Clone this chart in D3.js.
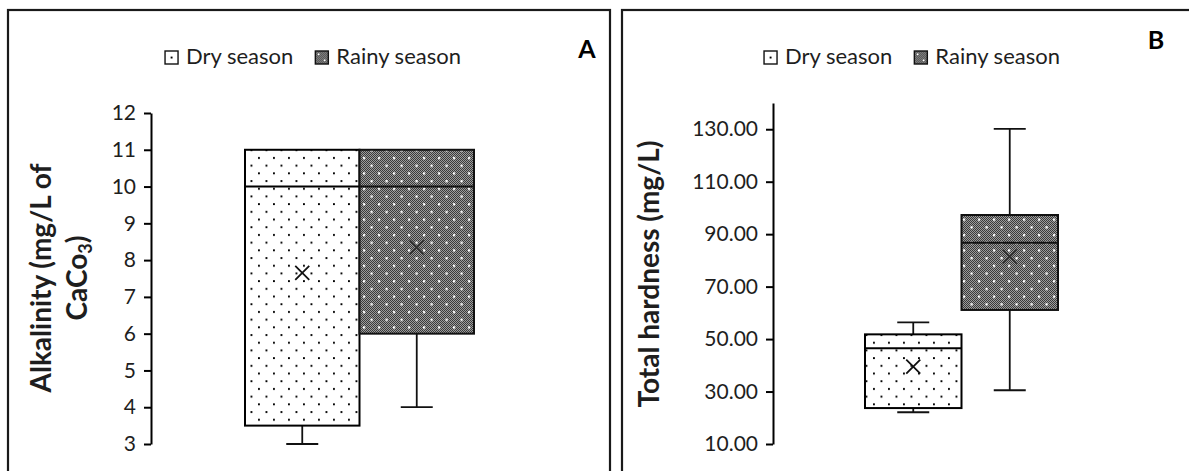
<!DOCTYPE html>
<html><head><meta charset="utf-8">
<script src="https://cdn.jsdelivr.net/npm/d3@7"></script>
<style>html,body{margin:0;padding:0;background:#fff;}svg{display:block;}</style>
</head><body>
<svg id="chart" width="1189" height="471"></svg>
<script>
// ---- data ----
const seasons = ["Dry season", "Rainy season"];
// Panel A: Alkalinity (mg/L of CaCo3)
const alkMin    = [3, 4];
const alkQ1     = [3.5, 6];
const alkMedian = [10, 10];
const alkQ3     = [11, 11];
const alkMax    = [11, 11];
const alkMean   = [7.65, 8.35];
const alkTicks  = [3, 4, 5, 6, 7, 8, 9, 10, 11, 12];
// Panel B: Total hardness (mg/L)
const hardMin    = [22.1, 30.5];
const hardQ1     = [23.7, 61.1];
const hardMedian = [46.5, 86.7];
const hardQ3     = [51.8, 97.3];
const hardMax    = [56.4, 130.1];
const hardMean   = [39.5, 81.4];
const hardTicks  = [10, 30, 50, 70, 90, 110, 130];

const svg = d3.select("#chart");
const defs = svg.append("defs");
// checker for rainy
const chk = defs.append("pattern").attr("id","chk").attr("patternUnits","userSpaceOnUse").attr("width",2).attr("height",2);
chk.append("rect").attr("width",2).attr("height",2).attr("fill","#9c9c9c");
chk.append("rect").attr("width",1).attr("height",1).attr("fill","#3a3a3a");
chk.append("rect").attr("x",1).attr("y",1).attr("width",1).attr("height",1).attr("fill","#3a3a3a");
function dotPattern(id, color, size){
  const p = defs.append("pattern").attr("id",id).attr("patternUnits","userSpaceOnUse").attr("width",15).attr("height",15.4);
  p.append("rect").attr("x",3).attr("y",3).attr("width",size).attr("height",size).attr("fill",color);
  p.append("rect").attr("x",10.5).attr("y",10.7).attr("width",size).attr("height",size).attr("fill",color);
}
dotPattern("dryDots","#000",1.9);
dotPattern("rainDots","#fff",2.2);

const FONT = "Lato, 'Open Sans', sans-serif";

function drawPanel(cfg){
  const g = svg.append("g");
  // border
  g.append("rect").attr("x",cfg.bx).attr("y",10).attr("width",cfg.bw).attr("height",500)
    .attr("fill","none").attr("stroke","#1a1a1a").attr("stroke-width",2.2);

  const y = d3.scaleLinear().domain(cfg.domain).range([444, cfg.top]);
  const x = d3.scaleBand().domain(seasons).range(cfg.xr).padding(0);

  const ax = g.append("g").attr("transform",`translate(${cfg.ax},0)`)
    .call(d3.axisLeft(y).tickValues(cfg.ticks).tickSize(7).tickPadding(8).tickSizeOuter(0).tickFormat(cfg.fmt));
  ax.select(".domain").attr("stroke","#000").attr("stroke-width",2);
  ax.selectAll(".tick line").attr("stroke","#000").attr("stroke-width",2);
  ax.selectAll(".tick text").attr("font-family",FONT).attr("font-size",21).attr("fill","#1e1e1e");

  const d = seasons.map((s,i)=>({s, i, min:cfg.min[i], q1:cfg.q1[i], med:cfg.med[i], q3:cfg.q3[i], max:cfg.max[i], mean:cfg.mean[i]}));
  const cap = 32;
  const bg = g.selectAll("g.box").data(d).join("g").attr("class","box");
  const cxf = e=>x(e.s)+x.bandwidth()/2;
  // whiskers
  bg.append("line").attr("x1",cxf).attr("x2",cxf)
    .attr("y1",e=>y(e.q3)).attr("y2",e=>y(e.max)).attr("stroke","#111").attr("stroke-width",1.8);
  bg.append("line").attr("x1",cxf).attr("x2",cxf)
    .attr("y1",e=>y(e.q1)).attr("y2",e=>y(e.min)).attr("stroke","#111").attr("stroke-width",1.8);
  bg.filter(e=>e.max>e.q3).append("line").attr("x1",e=>cxf(e)-cap/2).attr("x2",e=>cxf(e)+cap/2)
    .attr("y1",e=>y(e.max)).attr("y2",e=>y(e.max)).attr("stroke","#111").attr("stroke-width",1.8);
  bg.filter(e=>e.min<e.q1).append("line").attr("x1",e=>cxf(e)-cap/2).attr("x2",e=>cxf(e)+cap/2)
    .attr("y1",e=>y(e.min)).attr("y2",e=>y(e.min)).attr("stroke","#111").attr("stroke-width",1.8);
  // box fill
  bg.append("rect").attr("x",e=>x(e.s)).attr("y",e=>y(e.q3)).attr("width",x.bandwidth()).attr("height",e=>y(e.q1)-y(e.q3))
    .attr("fill",e=>e.i===0?"#fff":"url(#chk)");
  bg.append("rect").attr("x",e=>x(e.s)).attr("y",e=>y(e.q3)).attr("width",x.bandwidth()).attr("height",e=>y(e.q1)-y(e.q3))
    .attr("fill",e=>e.i===0?"url(#dryDots)":"url(#rainDots)")
    .attr("stroke",e=>e.i===0?"#000":"#111").attr("stroke-width",2);
  // median
  bg.append("line").attr("x1",e=>x(e.s)).attr("x2",e=>x(e.s)+x.bandwidth())
    .attr("y1",e=>y(e.med)).attr("y2",e=>y(e.med)).attr("stroke",e=>e.i===0?"#000":"#111").attr("stroke-width",2);
  // mean X
  const h = 7;
  bg.append("path").attr("d",e=>{const cx=cxf(e), cy=y(e.mean);
      return `M${cx-h},${cy-h}L${cx+h},${cy+h}M${cx-h},${cy+h}L${cx+h},${cy-h}`;})
    .attr("stroke",e=>e.i===0?"#111":"#333").attr("stroke-width",1.8).attr("fill","none");

  // legend
  const lg = g.append("g");
  const items = [];
  seasons.forEach((s,i)=>{
    const it = lg.append("g");
    it.append("rect").attr("width",13).attr("height",13).attr("fill",i===0?"#fff":"url(#chk)");
    it.append("rect").attr("width",13).attr("height",13).attr("fill","none").attr("stroke","#111").attr("stroke-width",1.4);
    if(i===0) it.append("rect").attr("x",5.6).attr("y",5.6).attr("width",1.9).attr("height",1.9).attr("fill","#000");
    else { it.append("rect").attr("x",2.5).attr("y",2.5).attr("width",1.6).attr("height",1.6).attr("fill","#fff");
           it.append("rect").attr("x",8.5).attr("y",8.5).attr("width",1.6).attr("height",1.6).attr("fill","#fff"); }
    const t = it.append("text").attr("x",21).attr("y",12.5).attr("font-family",FONT).attr("font-size",22).attr("fill","#1e1e1e").text(s);
    items.push({it, w: 21 + t.node().getComputedTextLength()});
  });
  const gap = 22;
  const total = items.reduce((a,b)=>a+b.w,0) + gap;
  let cx = cfg.legC - total/2;
  items.forEach(o=>{ o.it.attr("transform",`translate(${cx},${cfg.legY})`); cx += o.w + gap; });

  // panel label
  g.append("text").attr("x",cfg.lx).attr("y",cfg.ly).attr("text-anchor","middle").attr("font-family",FONT)
    .attr("font-weight","bold").attr("font-size",25).attr("fill","#000").text(cfg.label);

  // y title
  const tg = g.append("text").attr("transform",`translate(0,${cfg.ty}) rotate(-90)`)
    .attr("text-anchor","middle").attr("font-family",FONT).attr("font-weight","bold").attr("font-size",28).attr("fill","#1e1e1e");
  cfg.title(tg);
}

drawPanel({
  bx:8, bw:602, ax:151, top:113, domain:[3,12], ticks:alkTicks, fmt:d3.format("d"), xr:[245,474],
  min:alkMin, q1:alkQ1, med:alkMedian, q3:alkQ3, max:alkMax, mean:alkMean,
  legC:313, legY:51, lx:587, ly:58, label:"A", ty:278,
  title: t => {
    t.append("tspan").attr("x",0).attr("y",51).text("Alkalinity (mg/L of");
    const l2 = t.append("tspan").attr("x",0).attr("y",87);
    l2.text("CaCo");
    t.append("tspan").attr("font-size",18).attr("dy",5).text("3");
    t.append("tspan").attr("dy",-5).text(")");
  }
});
drawPanel({
  bx:622, bw:600, ax:773, top:103, domain:[10,140], ticks:hardTicks, fmt:d3.format(".2f"), xr:[865,1058],
  min:hardMin, q1:hardQ1, med:hardMedian, q3:hardQ3, max:hardMax, mean:hardMean,
  legC:912, legY:51, lx:1156, ly:49, label:"B", ty:274,
  title: t => { t.append("tspan").attr("x",0).attr("y",659).text("Total hardness (mg/L)"); }
});
</script>
</body></html>
